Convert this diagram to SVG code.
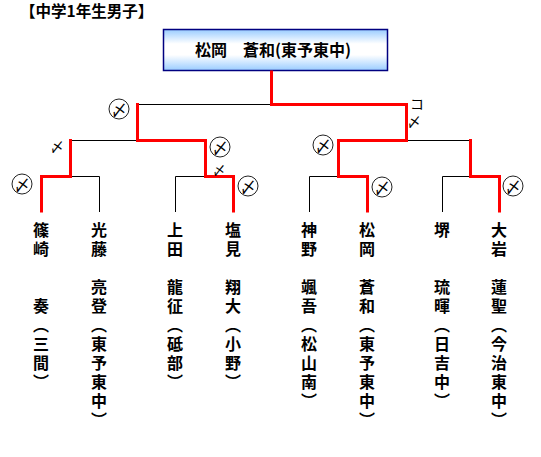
<svg xmlns="http://www.w3.org/2000/svg" width="541" height="457" viewBox="0 0 541 457">
<defs>
<linearGradient id="bg" x1="0" y1="0" x2="0" y2="1">
<stop offset="0" stop-color="#99ccff"/>
<stop offset="0.35" stop-color="#ffffff"/>
<stop offset="0.62" stop-color="#ffffff"/>
<stop offset="1" stop-color="#99ccff"/>
</linearGradient>
<style>
text{font-family:"Noto Sans CJK JP","Noto Sans CJK SC",sans-serif;fill:#000}
.ttl{font-size:15.5px;font-weight:bold}
.win{font-size:16px;font-weight:bold}
.nm{font-size:16px;font-weight:bold;writing-mode:vertical-rl;letter-spacing:3px}
.mk{font-size:16px;text-anchor:middle;dominant-baseline:central}
.sm{font-size:14px;text-anchor:middle;dominant-baseline:central}
.ring{fill:#fff;stroke:#222;stroke-width:1}
.blk{fill:none;stroke:#000;stroke-width:1}
.red{fill:none;stroke:#ff0000;stroke-width:3;stroke-linejoin:miter;stroke-linecap:square}
</style>
</defs>
<rect width="541" height="457" fill="#fff"/>
<text class="ttl" x="20" y="17">【中学1年生男子】</text>

<g id="champion">
<rect x="163.5" y="29.5" width="224" height="41" fill="url(#bg)" stroke="#000080" stroke-width="1.5"/>
<text class="win" x="195" y="56">松岡　蒼和(東予東中)</text>
</g>

<g id="connectors">
<path class="blk" d="M137.5,104.5 H271.5"/>
<path class="blk" d="M70.5,140.5 H137.5"/>
<path class="blk" d="M406.5,140.5 H470.5"/>
<path class="blk" d="M70.5,176.5 H99.5 V212"/>
<path class="blk" d="M205.5,176.5 H175.5 V212"/>
<path class="blk" d="M338.5,176.5 H309.5 V212"/>
<path class="blk" d="M470.5,176.5 H442.5 V212"/>
<path class="red" d="M271.5,72 V104.5 H406.5 V140.5 H338.5 V176.5 H367.5 V211"/>
<path class="red" d="M137.5,104.5 V140.5 H205.5 V176.5 H233.5 V211"/>
<path class="red" d="M70.5,140.5 V176.5 H41.5 V211"/>
<path class="red" d="M470.5,140.5 V176.5 H499.5 V211"/>
</g>

<g id="marks">
<g id="m1"><circle class="ring" cx="119" cy="109" r="10"/><text class="mk" x="119" y="109">〆</text></g>
<text class="sm" x="57" y="146">〆</text>
<g id="m2"><circle class="ring" cx="220" cy="147" r="10"/><text class="mk" x="220" y="147">〆</text></g>
<text class="sm" x="219" y="169" style="font-size:13px">〆</text>
<g id="m3"><circle class="ring" cx="22" cy="184" r="10"/><text class="mk" x="22" y="184">〆</text></g>
<g id="m4"><circle class="ring" cx="248" cy="186" r="10"/><text class="mk" x="248" y="186">〆</text></g>
<text class="sm" x="417" y="103">コ</text>
<text class="sm" x="414" y="121">〆</text>
<g id="m5"><circle class="ring" cx="323" cy="145" r="10"/><text class="mk" x="323" y="145">〆</text></g>
<g id="m6"><circle class="ring" cx="382" cy="187" r="10"/><text class="mk" x="382" y="187">〆</text></g>
<g id="m7"><circle class="ring" cx="513" cy="186" r="10"/><text class="mk" x="513" y="186">〆</text></g>
</g>

<g id="p1"><text class="nm" x="41" y="222">篠崎　　奏（三間）</text></g>
<g id="p2"><text class="nm" x="99" y="222">光藤　亮登（東予東中）</text></g>
<g id="p3"><text class="nm" x="175" y="222">上田　龍征（砥部）</text></g>
<g id="p4"><text class="nm" x="233" y="222">塩見　翔大（小野）</text></g>
<g id="p5"><text class="nm" x="309" y="222">神野　颯吾（松山南）</text></g>
<g id="p6"><text class="nm" x="367" y="222">松岡　蒼和（東予東中）</text></g>
<g id="p7"><text class="nm" x="442" y="222">堺　　琉暉（日吉中）</text></g>
<g id="p8"><text class="nm" x="499" y="222">大岩　蓮聖（今治東中）</text></g>
</svg>
